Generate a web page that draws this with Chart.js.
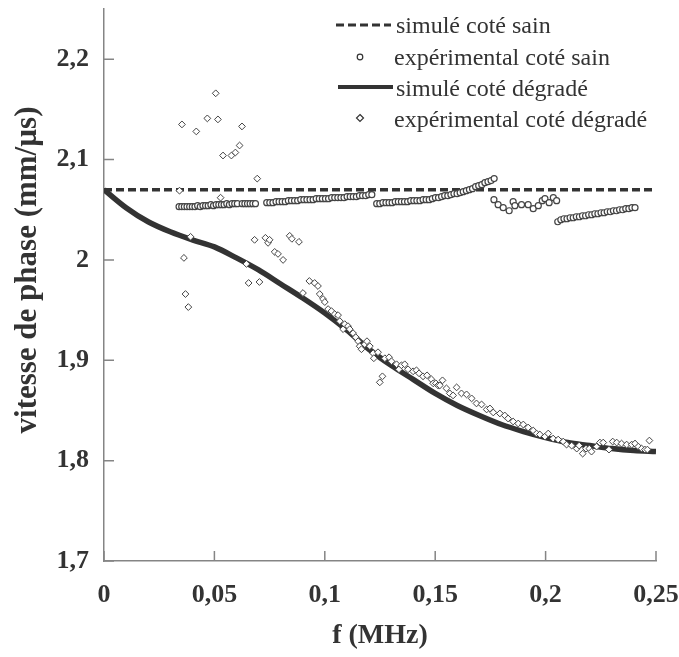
<!DOCTYPE html>
<html>
<head>
<meta charset="utf-8">
<script src="https://cdn.jsdelivr.net/npm/chart.js@4.4.1/dist/chart.umd.min.js"></script>
<style>
  body { margin: 0; background: #fff; }
  canvas { display: block; }
</style>
</head>
<body>
<canvas id="vitesseChart" width="679" height="657"></canvas>
<script>
// Données
const xTicks = [0, 0.05, 0.1, 0.15, 0.2, 0.25];
const yTicks = [1.7, 1.8, 1.9, 2.0, 2.1, 2.2];

// simulé coté sain (droite horizontale)
const simSainF = [0, 0.25];
const simSainV = [2.07, 2.07];

// simulé coté dégradé
const simDegF = [0, 0.01, 0.02, 0.03, 0.04, 0.05, 0.06, 0.07, 0.08, 0.09, 0.10, 0.11, 0.12,
                 0.13, 0.14, 0.15, 0.16, 0.17, 0.18, 0.19, 0.20, 0.21, 0.22, 0.23, 0.24, 0.25];
const simDegV = [2.070, 2.052, 2.038, 2.028, 2.020, 2.013, 2.002, 1.990, 1.976, 1.962, 1.947, 1.930, 1.911,
                 1.895, 1.881, 1.867, 1.855, 1.845, 1.836, 1.829, 1.823, 1.818, 1.815, 1.812, 1.810, 1.809];

// expérimental coté sain
const expSainF = [
  0.0340, 0.0352, 0.0364, 0.0376, 0.0388, 0.0400, 0.0412, 0.0424, 0.0436, 0.0448, 0.0460, 0.0472,
  0.0484, 0.0496, 0.0508, 0.0520, 0.0532, 0.0544, 0.0556, 0.0568, 0.0580, 0.0592, 0.0604,
  0.0626, 0.0638, 0.0650, 0.0662, 0.0674, 0.0686,
  0.0737, 0.0751, 0.0765, 0.0779, 0.0793, 0.0807, 0.0821, 0.0835, 0.0849, 0.0863, 0.0877, 0.0891,
  0.0905, 0.0919, 0.0933, 0.0947, 0.0961, 0.0975, 0.0989, 0.1003, 0.1017, 0.1031, 0.1045, 0.1059,
  0.1073, 0.1087, 0.1101, 0.1115, 0.1129, 0.1143, 0.1157, 0.1171, 0.1185, 0.1199, 0.1213,
  0.1235, 0.1249, 0.1263, 0.1277, 0.1291, 0.1305, 0.1319, 0.1333, 0.1347, 0.1361, 0.1375, 0.1389,
  0.1403, 0.1417, 0.1431, 0.1445, 0.1459, 0.1473, 0.1487, 0.1501, 0.1515, 0.1529, 0.1543, 0.1557,
  0.1571, 0.1585, 0.1599, 0.1613, 0.1627, 0.1641, 0.1655, 0.1669, 0.1683, 0.1697, 0.1711, 0.1725,
  0.1739, 0.1753, 0.1767,
  0.1766, 0.1785, 0.1808, 0.1835, 0.1853, 0.1861, 0.1891, 0.1921, 0.1944, 0.1967, 0.1985, 0.1997,
  0.2016, 0.2035, 0.2050,
  0.2055, 0.2069, 0.2083, 0.2097, 0.2111, 0.2125, 0.2139, 0.2153, 0.2167, 0.2181, 0.2195, 0.2209,
  0.2223, 0.2237, 0.2251, 0.2265, 0.2279, 0.2293, 0.2307, 0.2321, 0.2335, 0.2349, 0.2363, 0.2377,
  0.2391, 0.2405
];
const expSainV = [
  2.053, 2.053, 2.053, 2.053, 2.053, 2.053, 2.053, 2.054, 2.053, 2.054, 2.054, 2.054,
  2.055, 2.054, 2.055, 2.055, 2.055, 2.055, 2.056, 2.055, 2.056, 2.056, 2.056,
  2.056, 2.056, 2.056, 2.056, 2.056, 2.056,
  2.057, 2.057, 2.057, 2.058, 2.058, 2.058, 2.058, 2.059, 2.059, 2.059, 2.059, 2.060,
  2.060, 2.060, 2.060, 2.060, 2.061, 2.061, 2.061, 2.061, 2.061, 2.062, 2.062, 2.062,
  2.062, 2.062, 2.063, 2.063, 2.063, 2.063, 2.064, 2.064, 2.064, 2.065, 2.065,
  2.056, 2.056, 2.057, 2.057, 2.057, 2.057, 2.058, 2.058, 2.058, 2.058, 2.058, 2.059,
  2.059, 2.059, 2.059, 2.060, 2.060, 2.060, 2.061, 2.062, 2.062, 2.063, 2.064, 2.064,
  2.065, 2.066, 2.066, 2.067, 2.068, 2.069, 2.070, 2.071, 2.073, 2.074, 2.075, 2.077,
  2.078, 2.079, 2.081,
  2.060, 2.055, 2.052, 2.049, 2.058, 2.054, 2.055, 2.055, 2.051, 2.054, 2.059, 2.061,
  2.057, 2.062, 2.059,
  2.038, 2.040, 2.041, 2.041, 2.042, 2.042, 2.043, 2.043, 2.044, 2.044, 2.045, 2.045,
  2.046, 2.046, 2.047, 2.047, 2.048, 2.048, 2.049, 2.049, 2.050, 2.050, 2.051, 2.051,
  2.052, 2.052
];

// expérimental coté dégradé
const expDegF = [
  0.0342, 0.0353, 0.0362, 0.0369, 0.0382, 0.0392, 0.0418, 0.0468, 0.0506, 0.0516, 0.0528, 0.0539,
  0.0577, 0.0595, 0.0614, 0.0625, 0.0645, 0.0655, 0.0682, 0.0694, 0.0704, 0.0731, 0.0743, 0.0750,
  0.0773, 0.0788, 0.0811, 0.0841, 0.0851, 0.0883, 0.0901, 0.0930, 0.0954, 0.0969, 0.0977, 0.0992,
  0.1000, 0.1015, 0.1030, 0.1045, 0.1060, 0.1068, 0.1083, 0.1090, 0.1105, 0.1113, 0.1128, 0.1140,
  0.1151, 0.1158, 0.1166, 0.1181, 0.1191, 0.1204, 0.1219, 0.1222, 0.1241, 0.1249, 0.1261, 0.1272,
  0.1291, 0.1302, 0.1325, 0.1336, 0.1347, 0.1362, 0.1377, 0.1400, 0.1415, 0.1427, 0.1445, 0.1463,
  0.1483, 0.1491, 0.1503, 0.1513, 0.1521, 0.1533, 0.1551, 0.1566, 0.1581, 0.1597, 0.1619, 0.1642,
  0.1665, 0.1687, 0.1710, 0.1733, 0.1748, 0.1763, 0.1793, 0.1815, 0.1830, 0.1853, 0.1876, 0.1899,
  0.1921, 0.1944, 0.1959, 0.1974, 0.1997, 0.2012, 0.2034, 0.2057, 0.2080, 0.2095, 0.2118, 0.2141,
  0.2152, 0.2168, 0.2183, 0.2198, 0.2208, 0.2231, 0.2246, 0.2261, 0.2287, 0.2304, 0.2322, 0.2344,
  0.2367, 0.2390, 0.2405, 0.2420, 0.2435, 0.2450, 0.2461, 0.2470
];
const expDegV = [
  2.069, 2.135, 2.002, 1.966, 1.953, 2.023, 2.128, 2.141, 2.166, 2.140, 2.062, 2.104,
  2.104, 2.107, 2.114, 2.133, 1.996, 1.977, 2.020, 2.081, 1.978, 2.022, 2.017, 2.020,
  2.008, 2.006, 2.000, 2.024, 2.021, 2.018, 1.967, 1.979, 1.977, 1.974, 1.966, 1.961,
  1.958, 1.951, 1.949, 1.946, 1.945, 1.939, 1.931, 1.936, 1.934, 1.931, 1.927, 1.923,
  1.919, 1.914, 1.911, 1.916, 1.919, 1.914, 1.907, 1.902, 1.908, 1.878, 1.884, 1.902,
  1.903, 1.899, 1.896, 1.891, 1.895, 1.896, 1.891, 1.889, 1.890, 1.887, 1.884, 1.885,
  1.881, 1.877, 1.877, 1.875, 1.875, 1.880, 1.872, 1.867, 1.865, 1.873, 1.867, 1.866,
  1.862, 1.857, 1.856, 1.851, 1.852, 1.848, 1.847, 1.845, 1.842, 1.839, 1.837, 1.836,
  1.833, 1.830, 1.827, 1.826, 1.824, 1.827, 1.822, 1.821, 1.819, 1.816, 1.815, 1.812,
  1.815, 1.807, 1.812, 1.812, 1.809, 1.814, 1.818, 1.818, 1.811, 1.819, 1.818, 1.817,
  1.816, 1.816, 1.817, 1.814, 1.812, 1.811, 1.811, 1.820
];

const pts = (fs, vs) => fs.map((f, i) => ({ x: f, y: vs[i] }));
const virgule = v => String(Math.round(v * 1000) / 1000).replace('.', ',');

const serif = "'Liberation Serif', 'Times New Roman', serif";
const inkColor = '#333333';
const axisColor = '#858585';

// Graduations vers l'intérieur, titres des axes et légende
const decorPlugin = {
    id: 'decor',
    afterDraw(chart) {
        const ctx = chart.ctx;
        const xs = chart.scales.x, ys = chart.scales.y;
        const area = chart.chartArea;
        ctx.save();
        ctx.strokeStyle = axisColor;
        ctx.lineWidth = 1.5;
        ctx.beginPath();
        xs.ticks.forEach(t => {
            const px = xs.getPixelForValue(t.value);
            ctx.moveTo(px, area.bottom);
            ctx.lineTo(px, area.bottom - 10);
        });
        ys.ticks.forEach(t => {
            const py = ys.getPixelForValue(t.value);
            ctx.moveTo(area.left, py);
            ctx.lineTo(area.left + 10, py);
        });
        ctx.stroke();

        // titres
        ctx.fillStyle = inkColor;
        ctx.font = 'bold 28px ' + serif;
        ctx.textAlign = 'center';
        ctx.textBaseline = 'middle';
        ctx.fillText('f (MHz)', (area.left + area.right) / 2, 636);
        ctx.save();
        ctx.translate(28, 270);
        ctx.rotate(-Math.PI / 2);
        ctx.font = 'bold 31px ' + serif;
        ctx.fillText('vitesse de phase (mm/µs)', 0, 0);
        ctx.restore();

        // légende
        ctx.font = '24px ' + serif;
        ctx.textAlign = 'left';
        ctx.strokeStyle = inkColor;
        ctx.lineWidth = 3;
        ctx.setLineDash([8, 4]);
        ctx.beginPath();
        ctx.moveTo(336, 25);
        ctx.lineTo(391, 25);
        ctx.stroke();
        ctx.setLineDash([]);
        ctx.lineWidth = 4;
        ctx.beginPath();
        ctx.moveTo(338, 87);
        ctx.lineTo(393, 87);
        ctx.stroke();

        ctx.fillStyle = '#fff';
        ctx.lineWidth = 1.2;
        ctx.beginPath();
        ctx.arc(360, 57, 2.8, 0, Math.PI * 2);
        ctx.fill();
        ctx.stroke();
        ctx.beginPath();
        ctx.moveTo(360, 114.5);
        ctx.lineTo(363.5, 118);
        ctx.lineTo(360, 121.5);
        ctx.lineTo(356.5, 118);
        ctx.closePath();
        ctx.fill();
        ctx.stroke();

        ctx.fillStyle = inkColor;
        ctx.fillText('simulé coté sain', 396, 27);
        ctx.fillText('expérimental coté sain', 394, 59);
        ctx.fillText('simulé coté dégradé', 396, 90);
        ctx.fillText('expérimental coté dégradé', 394, 121);
        ctx.restore();
    }
};

const ctx = document.getElementById('vitesseChart').getContext('2d');
const vitesseChart = new Chart(ctx, {
    type: 'scatter',
    data: {
        datasets: [
            {
                label: 'simulé coté sain',
                data: pts(simSainF, simSainV),
                showLine: true,
                borderColor: inkColor,
                borderWidth: 3.5,
                borderDash: [8, 4],
                pointRadius: 0,
                order: 3
            },
            {
                label: 'simulé coté dégradé',
                data: pts(simDegF, simDegV),
                showLine: true,
                borderColor: inkColor,
                borderWidth: 5.5,
                cubicInterpolationMode: 'monotone',
                pointRadius: 0,
                order: 3
            },
            {
                label: 'expérimental coté sain',
                data: pts(expSainF, expSainV),
                pointStyle: 'circle',
                pointRadius: 3,
                pointBackgroundColor: '#ffffff',
                pointBorderColor: '#444444',
                pointBorderWidth: 1.2,
                order: 1
            },
            {
                label: 'expérimental coté dégradé',
                data: pts(expDegF, expDegV),
                pointStyle: 'rectRot',
                pointRadius: 3.4,
                pointBackgroundColor: '#ffffff',
                pointBorderColor: '#444444',
                pointBorderWidth: 1,
                order: 1
            }
        ]
    },
    options: {
        responsive: false,
        animation: false,
        devicePixelRatio: 1,
        layout: { padding: { top: 9, right: 23, left: 0, bottom: 0 } },
        plugins: {
            legend: { display: false },
            tooltip: { enabled: false }
        },
        scales: {
            x: {
                type: 'linear',
                min: 0,
                max: 0.25,
                afterBuildTicks: s => { s.ticks = xTicks.map(v => ({ value: v })); },
                afterFit: s => { s.height = 96; s.paddingLeft = 0; s.paddingRight = 0; },
                ticks: {
                    color: inkColor,
                    padding: 19,
                    maxRotation: 0,
                    font: { family: serif, size: 26, weight: 'bold' },
                    callback: v => virgule(v)
                },
                grid: { drawOnChartArea: false, drawTicks: false },
                border: { display: true, color: axisColor, width: 1.5 }
            },
            y: {
                type: 'linear',
                min: 1.7,
                max: 2.25,
                afterBuildTicks: s => { s.ticks = yTicks.map(v => ({ value: v })); },
                afterFit: s => { s.width = 104; s.paddingTop = 0; s.paddingBottom = 0; },
                ticks: {
                    color: inkColor,
                    padding: 15,
                    font: { family: serif, size: 26, weight: 'bold' },
                    callback: v => virgule(v)
                },
                grid: { drawOnChartArea: false, drawTicks: false },
                border: { display: true, color: axisColor, width: 1.5 }
            }
        }
    },
    plugins: [decorPlugin]
});
</script>
</body>
</html>
